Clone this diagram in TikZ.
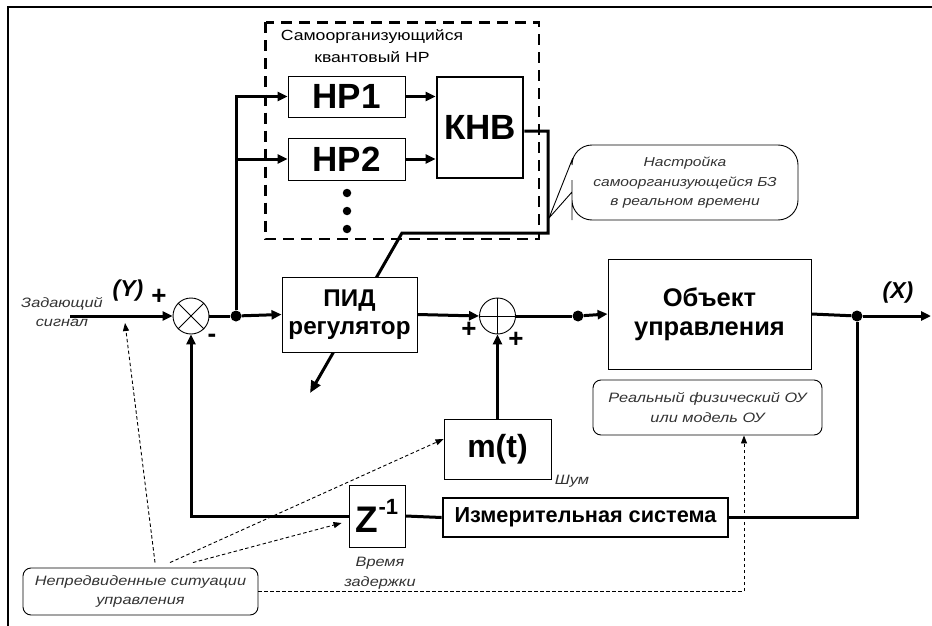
\documentclass[tikz,border=0pt]{standalone}
\usepackage{fontspec}
\setmainfont{Liberation Sans}
\newfontfamily\lbl[FakeStretch=1.2]{Liberation Sans}
\usetikzlibrary{arrows.meta,calc}
\begin{document}
\begin{tikzpicture}[x=1pt,y=-1pt,
  box/.style={draw, line width=0.9pt, fill=white, inner sep=0pt, align=center},
  thickbox/.style={box, line width=2.8pt},
  wire/.style={line width=3pt},
  conn/.style={line width=3pt, -{Triangle[length=10pt,width=9pt]}},
  dasharrow/.style={line width=0.9pt, dash pattern=on 3.5pt off 2.5pt, -{Triangle[length=8pt,width=6pt]}},
  note/.style={font=\lbl\itshape\fontsize{13.6}{19.5}\selectfont, text=black!80, align=center},
  noteframe/.style={note, draw, rounded corners=8pt, line width=0.9pt, inner sep=0pt},
  jdot/.style={circle, fill, inner sep=0pt, minimum size=11pt},
  summer/.style={circle, draw, line width=0.9pt, minimum size=36pt, inner sep=0pt, fill=white},
  bigbold/.style={font=\bfseries\fontsize{35}{36}\selectfont},
  sign/.style={font=\bfseries\fontsize{26}{26}\selectfont, inner sep=0pt}
]
\useasboundingbox (0,0) rectangle (932,626);
% outer frame (top and left visible)
\draw[line width=2.2pt] (8,626) -- (8,7) -- (932,7);

% dashed frame of the self-organizing quantum controller
\draw[line width=2.8pt, dash pattern=on 11pt off 7pt] (265.5,22.5) rectangle (539,239);
\node[font=\lbl\fontsize{14.7}{22}\selectfont, align=center] (title) at (372,46) {Самоорганизующийся\\квантовый НР};

\node[box, bigbold, minimum width=117pt, minimum height=41pt] (hp1) at (346.5,96.5) {НР1};
\node[box, bigbold, minimum width=117pt, minimum height=42pt] (hp2) at (346.5,159) {НР2};
\node[thickbox, bigbold, minimum width=86pt, minimum height=101pt] (knv) at (480,127.5) {КНВ};
\node[jdot, minimum size=8.5pt] (d1) at (347,193) {};
\node[jdot, minimum size=8.5pt] (d2) at (347,211) {};
\node[jdot, minimum size=8.5pt] (d3) at (347,229) {};

\draw[conn] (hp1.east) -- (knv.west |- hp1.east);
\draw[conn] (hp2.east) -- (knv.west |- hp2.east);

% tuning line from KNV to PID (drawn before PID box so box hides it)
\coordinate (k1) at (548,131);
\coordinate (k2) at (548,233);
\coordinate (k3) at (402,233);
\coordinate (ktip) at (310,393);
\draw[wire, -{Triangle[length=12pt,width=10pt]}] ([yshift=-3.5pt]knv.east) -- (k1) -- (k2) -- (k3) -- (ktip);

% callout
\node[note, font=\lbl\itshape\fontsize{13}{19.5}\selectfont] (cal) at (685,183) {Настройка\\самоорганизующейся БЗ\\в реальном времени};
\draw[line width=0.9pt] (549,218) -- (572,160) [rounded corners=20pt] -- (572,145) -- (798,145) -- (798,220) -- (572,220) -- (572,200) [sharp corners] -- (572,192) -- cycle;

% main loop
\coordinate (in) at (70,316);
\node[summer] (s1) at (191,316) {};
\draw[line width=0.9pt] (s1.north west) -- (s1.south east) (s1.north east) -- (s1.south west);
\node[jdot] (j1) at (236,316) {};
\node[box, font=\bfseries\fontsize{24.2}{28}\selectfont, minimum width=135pt, minimum height=75pt] (pid) at (349.5,314.5) {ПИД\\регулятор};
\node[summer] (s2) at (497.5,316) {};
\draw[line width=0.9pt] (s2.north) -- (s2.south) (s2.west) -- (s2.east);
\node[jdot] (j2) at (578,316) {};
\node[box, font=\bfseries\fontsize{25.5}{29}\selectfont, minimum width=203pt, minimum height=110pt] (obj) at (709.5,314) {Объект\\управления};
\node[jdot] (j3) at (857,316) {};
\coordinate (out) at (931,316);

\draw[conn] (in) -- (s1.west);
\draw[wire] (s1.east) -- (j1);
\draw[conn] (j1) -- (pid.west);
\draw[conn] (j1) |- (hp1.west);
\draw[conn] (j1 |- hp2.west) -- (hp2.west);
\draw[conn] (pid.east) -- (s2.west);
\draw[wire] (s2.east) -- (j2);
\draw[conn] (j2) -- (obj.west);
\draw[wire] (obj.east) -- (j3);
\draw[conn] (j3) -- (out);

% noise, measurement, delay
\node[box, font=\bfseries\fontsize{32}{34}\selectfont, minimum width=107pt, minimum height=60pt] (mt) at (497.5,449) {m(t)};
\node[thickbox, font=\bfseries\fontsize{21.7}{24}\selectfont, minimum width=285pt, minimum height=39pt] (meas) at (585.5,517.5) {Измерительная система};
\node[box, font=\bfseries\fontsize{37}{37}\selectfont, minimum width=56pt, minimum height=62pt] (zb) at (377,516) {Z\raisebox{0.5em}{\fontsize{22}{22}\selectfont -1}};

\draw[conn] (mt.north) -- (s2.south);
\draw[wire] (j3) |- (meas.east);
\draw[wire] (meas.west) -- (zb.east);
\draw[conn] (zb.west) -| (s1.south);

% descriptive notes
\node[noteframe, minimum width=229pt, minimum height=55pt] (desc) at (707.5,407.5) {Реальный физический ОУ\\или модель ОУ};
\node[noteframe, minimum width=235pt, minimum height=47pt] (unf) at (140.5,591.5) {Непредвиденные ситуации\\управления};

% labels
\node[note] (zad) at (62,312) {Задающий\\сигнал};
\node[font=\bfseries\itshape\fontsize{23}{23}\selectfont] (ylab) at (128,291) {(Y)};
\node[font=\bfseries\itshape\fontsize{23}{23}\selectfont] (xlab) at (898,293) {(X)};
\node[sign] (p1) at (159,297) {+};
\node[sign] (m1) at (212,338) {-};
\node[sign] (p2) at (469,330) {+};
\node[sign] (p3) at (516,340) {+};
\node[note] (shum) at (572,481) {Шум};
\node[note] (vz) at (380,573) {Время\\задержки};

% dashed influence arrows
\coordinate (ytip) at (125,323);
\draw[dasharrow] ([xshift=14.5pt,yshift=5pt]unf.north) -- (ytip);
\draw[dasharrow] ([xshift=29.5pt,yshift=5pt]unf.north) -- ([yshift=10pt]mt.west);
\draw[dasharrow] ([xshift=52.5pt,yshift=5pt]unf.north) -- ([xshift=-7pt,yshift=-7pt]zb.west);
\draw[dasharrow] (unf.east) -| ([xshift=36.5pt]desc.south);
\end{tikzpicture}
\end{document}
